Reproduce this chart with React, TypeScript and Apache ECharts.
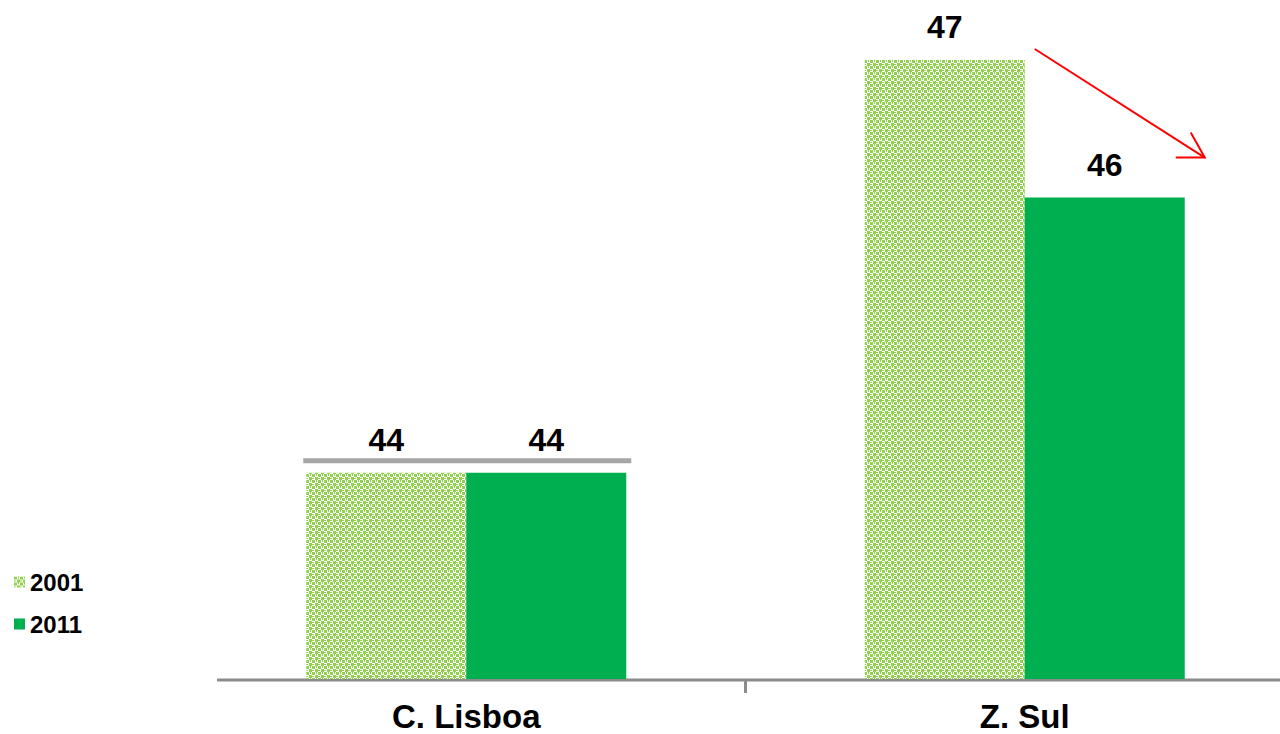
import React, { useEffect, useRef } from "react";
import * as echarts from "echarts";

const categories = ["C. Lisboa", "Z. Sul"];
const seriesNames = ["2001", "2011"];
const values2001 = [44, 47];
const values2011 = [44, 46];
const yMin = 42.5;
const yMax = 47;

function makePattern(): HTMLCanvasElement {
  const c = document.createElement("canvas");
  c.width = 6;
  c.height = 6;
  const ctx = c.getContext("2d")!;
  ctx.fillStyle = "#ffffff";
  ctx.fillRect(0, 0, 6, 6);
  ctx.fillStyle = "#92D050";
  ctx.fillRect(0, 0, 3, 3);
  ctx.fillRect(3, 3, 3, 3);
  // cross arms
  ctx.fillRect(4, 1, 1, 1);
  ctx.fillRect(1, 4, 1, 1);
  ctx.fillRect(4, 0, 1, 1);
  ctx.fillRect(0, 4, 1, 1);
  return c;
}

export default function App() {
  const ref = useRef<HTMLDivElement>(null);
  useEffect(() => {
    if (!ref.current) return;
    const chart = echarts.init(ref.current, null, { renderer: "svg" });
    const pattern = makePattern();
    const patternFill: any = {
      image: pattern,
      repeat: "repeat",
      imageWidth: 6,
      imageHeight: 6,
    };
    const labelStyle = {
      show: true,
      position: "top",
      distance: 17,
      fontFamily: "Liberation Sans, Arial, sans-serif",
      fontWeight: "bold",
      fontSize: 32,
      color: "#000",
    };
    chart.setOption({
      animation: false,
      backgroundColor: "#ffffff",
      grid: {
        left: 187,
        width: 1117,
        top: 60,
        bottom: 55,
        containLabel: false,
        outerBoundsMode: "none",
      },
      legend: {
        orient: "vertical",
        left: 9,
        top: 565,
        itemWidth: 11,
        itemHeight: 11,
        itemGap: 18,
        itemStyle: { borderWidth: 0 },
        icon: "rect",
        textStyle: {
          fontFamily: "Liberation Sans, Arial, sans-serif",
          fontWeight: "bold",
          fontSize: 24,
          color: "#000",
        },
        data: seriesNames,
      },
      xAxis: {
        type: "category",
        data: categories,
        axisLine: { show: false },
        axisTick: { show: false },
        axisLabel: {
          margin: 21,
          fontFamily: "Liberation Sans, Arial, sans-serif",
          fontWeight: "bold",
          fontSize: 33,
          color: "#000",
        },
      },
      yAxis: {
        type: "value",
        min: yMin,
        max: yMax,
        show: false,
        splitLine: { show: false },
      },
      series: [
        {
          name: seriesNames[0],
          type: "bar",
          data: values2001,
          barWidth: 160,
          barGap: "0%",
          itemStyle: { color: patternFill },
          label: labelStyle,
        },
        {
          name: seriesNames[1],
          type: "bar",
          data: values2011,
          barWidth: 160,
          barGap: "0%",
          itemStyle: { color: "#00B050" },
          label: labelStyle,
        },
      ],
    });

    const baseY = chart.convertToPixel({ yAxisIndex: 0 }, yMin) as number;
    const c0 = chart.convertToPixel({ xAxisIndex: 0 }, categories[0]) as number;
    const c1 = chart.convertToPixel({ xAxisIndex: 0 }, categories[1]) as number;
    const mid = (c0 + c1) / 2;
    const lisY = chart.convertToPixel({ yAxisIndex: 0 }, values2001[0]) as number;
    const zTop = chart.convertToPixel({ yAxisIndex: 0 }, values2001[1]) as number;
    const zTop2 = chart.convertToPixel({ yAxisIndex: 0 }, values2011[1]) as number;

    const tipX = c1 + 180;
    const tipY = zTop2 - 40;
    chart.setOption({
      graphic: [
        {
          type: "line",
          shape: { x1: 217, y1: baseY + 1, x2: 1280, y2: baseY + 1 },
          style: { stroke: "#8C8C8C", lineWidth: 3 },
        },
        {
          type: "line",
          shape: { x1: mid, y1: baseY, x2: mid, y2: baseY + 14 },
          style: { stroke: "#8C8C8C", lineWidth: 3 },
        },
        {
          type: "line",
          shape: { x1: c0 - 163, y1: lisY - 12, x2: c0 + 165, y2: lisY - 12 },
          style: { stroke: "#A6A6A6", lineWidth: 5 },
        },
        {
          type: "line",
          shape: { x1: c1 + 10, y1: zTop - 11, x2: tipX, y2: tipY },
          style: { stroke: "#FF0000", lineWidth: 2 },
        },
        {
          type: "polyline",
          shape: {
            points: [
              [tipX - 14, tipY - 25],
              [tipX, tipY],
              [tipX - 29, tipY],
            ],
          },
          style: { stroke: "#FF0000", lineWidth: 2, fill: null },
        },
      ],
    });

    return () => chart.dispose();
  }, []);
  return (
    <div
      ref={ref}
      style={{ position: "absolute", left: 0, top: 0, width: 1280, height: 734 }}
    />
  );
}
